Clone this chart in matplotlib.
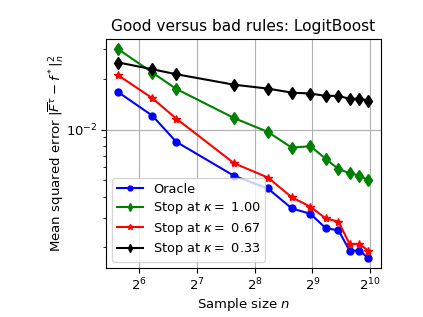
import matplotlib
matplotlib.use("Agg")
import matplotlib.pyplot as plt

n = [50, 75, 100, 200, 300, 400, 500, 600, 700, 800, 900, 1000]
oracle = [0.01663, 0.01209, 0.00845, 0.00531, 0.00447, 0.00340, 0.00316, 0.00260, 0.00252, 0.00191, 0.00191, 0.00173]
k100 = [0.0299, 0.0218, 0.01742, 0.01170, 0.00968, 0.00780, 0.00797, 0.00671, 0.00582, 0.00551, 0.00533, 0.00501]
k067 = [0.02094, 0.01535, 0.01161, 0.00631, 0.00519, 0.00396, 0.00348, 0.00297, 0.00284, 0.00209, 0.00209, 0.00191]
k033 = [0.0250, 0.0228, 0.0213, 0.01846, 0.01750, 0.01656, 0.01636, 0.01585, 0.01585, 0.01521, 0.01528, 0.01486]
labels = ["Oracle", r"Stop at $\kappa = $ 1.00", r"Stop at $\kappa = $ 0.67", r"Stop at $\kappa = $ 0.33"]

fig = plt.figure(figsize=(4.23, 3.17), dpi=100)
ax = fig.add_axes([0.2506, 0.1536, 0.6494, 0.7234])
ax.plot(n, oracle, color="blue", marker="o", ms=5, label=labels[0])
ax.plot(n, k100, color="green", marker="d", ms=6, label=labels[1])
ax.plot(n, k067, color="red", marker="*", ms=6, label=labels[2])
ax.plot(n, k033, color="black", marker="d", ms=6, label=labels[3])
ax.set_xscale("log", base=2)
ax.set_yscale("log")
ax.grid(True, which="major")
ax.tick_params(labelsize=9.5, pad=2.5)
ax.set_title("Good versus bad rules: LogitBoost", fontsize=11.1)
ax.set_xlabel(r"Sample size $n$", fontsize=9.5, labelpad=2)
ax.set_ylabel(r"Mean squared error $|\overline{F}^{\tau} - f^*|_n^2$", fontsize=9.6, labelpad=0)
ax.legend(loc="lower left", fontsize=9.3, handlelength=2.0, labelspacing=0.35,
          borderpad=0.35, markerscale=0.7)
fig.savefig("out.png", dpi=100)
